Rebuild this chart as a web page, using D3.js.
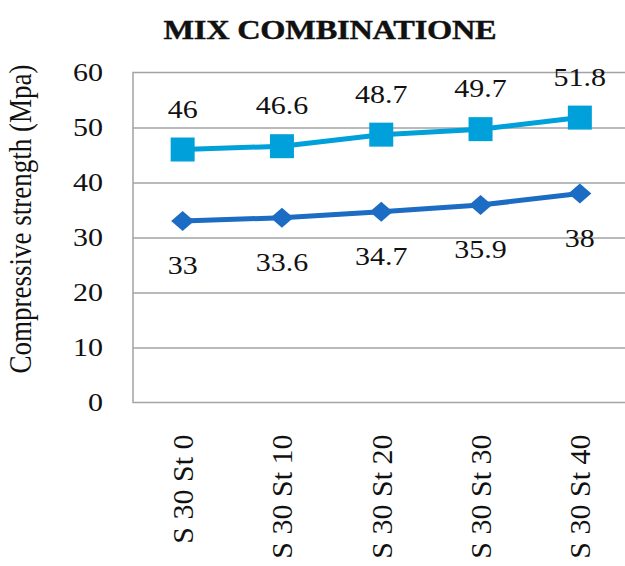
<!DOCTYPE html>
<html>
<head>
<meta charset="utf-8">
<script src="https://cdn.jsdelivr.net/npm/d3@7"></script>
<style>
  html, body { margin: 0; padding: 0; background: #fff; }
  svg { display: block; }
  text { font-family: "Liberation Serif", "Times New Roman", serif; fill: #111; }
</style>
</head>
<body>
<script>
// Compressive strength for each mix combination
const categories = ["S 30 St 0", "S 30 St 10", "S 30 St 20", "S 30 St 30", "S 30 St 40"];
const upperValues = [46, 46.6, 48.7, 49.7, 51.8];
const lowerValues = [33, 33.6, 34.7, 35.9, 38];
const yTicks = [0, 10, 20, 30, 40, 50, 60];
const titleText = "MIX COMBINATIONE";
const yAxisTitle = "Compressive strength (Mpa)";

const W = 625, H = 566;
const SX = 1.2; // horizontal glyph stretch
const plot = { left: 133, right: 629.5, top: 72.5, bottom: 402.5 };

const svg = d3.select("body").append("svg")
  .attr("width", W).attr("height", H);

const x = d3.scaleBand().domain(categories).range([plot.left, plot.right]).padding(0);
const y = d3.scaleLinear().domain([0, 60]).range([plot.bottom, plot.top]);
const cx = d => x(d) + x.bandwidth() / 2;

// title
svg.append("text")
  .attr("transform", `translate(330,39) scale(${SX},1)`)
  .attr("text-anchor", "middle")
  .attr("font-size", 27)
  .attr("font-weight", "bold")
  .attr("letter-spacing", -0.2)
  .attr("stroke", "#111").attr("stroke-width", 0.4)
  .text(titleText);

// gridlines
const grid = svg.append("g")
  .attr("transform", `translate(${plot.left},0)`)
  .call(d3.axisLeft(y).tickValues(yTicks.filter(t => t > 0 && t < 60)).tickSize(-(plot.right - plot.left)).tickFormat(""));
grid.select(".domain").remove();
grid.selectAll("line").attr("stroke", "#a3a3a3").attr("stroke-width", 1.5);

// plot frame
svg.append("rect")
  .attr("x", plot.left).attr("y", plot.top)
  .attr("width", plot.right - plot.left).attr("height", plot.bottom - plot.top)
  .attr("fill", "none").attr("stroke", "#a3a3a3").attr("stroke-width", 1.5);

// y axis labels
const yAxis = svg.append("g")
  .attr("transform", `translate(${plot.left},0)`)
  .call(d3.axisLeft(y).tickValues(yTicks).tickSize(0).tickFormat(d3.format("d")));
yAxis.select(".domain").remove();
yAxis.selectAll("text")
  .attr("x", null).attr("dy", null)
  .attr("font-size", 25)
  .attr("font-family", "Liberation Serif, serif")
  .attr("fill", "#111")
  .attr("text-anchor", "end")
  .attr("transform", `translate(-30,8) scale(${SX},1)`);

// y axis title
svg.append("text")
  .attr("transform", `translate(31,219) rotate(-90) scale(1,1.15)`)
  .attr("text-anchor", "middle")
  .attr("font-size", 27)
  .text(yAxisTitle);

// x axis labels
const xAxis = svg.append("g")
  .attr("transform", `translate(0,${plot.bottom})`)
  .call(d3.axisBottom(x).tickSize(0));
xAxis.select(".domain").remove();
xAxis.selectAll("text")
  .attr("y", null).attr("dy", null)
  .attr("font-size", 30)
  .attr("font-family", "Liberation Serif, serif")
  .attr("fill", "#111")
  .attr("text-anchor", "end")
  .attr("transform", `translate(10.5,32) rotate(-90)`);

// series
const series = [
  { values: lowerValues, color: "#1d6cc4", marker: "diamond", labelDy: 53 },
  { values: upperValues, color: "#00a0da", marker: "square", labelDy: -32 }
];

const line = d3.line().x((d, i) => cx(categories[i])).y(d => y(d));

series.forEach(s => {
  svg.append("path")
    .datum(s.values)
    .attr("d", line)
    .attr("fill", "none")
    .attr("stroke", s.color)
    .attr("stroke-width", 5)
    .attr("stroke-linejoin", "round");

  const m = svg.append("g").selectAll("path").data(s.values).join("path")
    .attr("fill", s.color);
  if (s.marker === "square") {
    m.attr("d", d3.symbol(d3.symbolSquare, 24 * 24))
     .attr("transform", (d, i) => `translate(${cx(categories[i])},${y(d)})`);
  } else {
    const side = 16;
    m.attr("d", d3.symbol(d3.symbolSquare, side * side))
     .attr("transform", (d, i) =>
       `translate(${cx(categories[i])},${y(d)}) scale(${23 / (side * Math.SQRT2)},${20 / (side * Math.SQRT2)}) rotate(45)`);
  }

  svg.append("g").selectAll("text").data(s.values).join("text")
    .attr("text-anchor", "middle")
    .attr("font-size", 25)
    .attr("transform", (d, i) => `translate(${cx(categories[i])},${y(d) + s.labelDy}) scale(${SX},1)`)
    .text(d => d);
});
</script>
</body>
</html>
